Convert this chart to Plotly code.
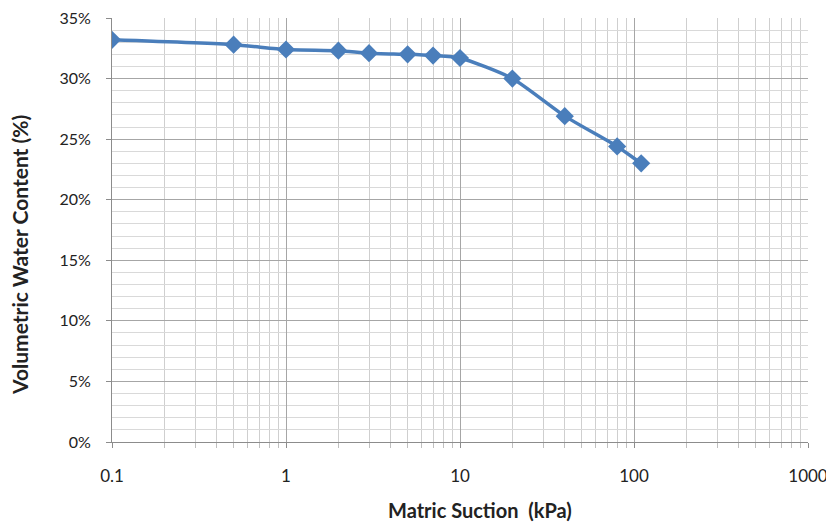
import plotly.graph_objects as go

suction_kpa = [0.1, 0.5, 1, 2, 3, 5, 7, 10, 20, 40, 80, 110]
vwc = [0.332, 0.328, 0.324, 0.323, 0.321, 0.320, 0.319, 0.317, 0.300, 0.269, 0.244, 0.230]
x_ticks = [0.1, 1, 10, 100, 1000]
x_tick_text = ["0.1", "1", "10", "100", "1000"]

FONT = "Lato"

# figure is offset by the page's 8px body margin, so size/margins are reduced by 8
W, H = 826, 517
ML, MR, MT, MB = 104, 26, 10, 83
PW, PH = W - ML - MR, H - MT - MB

fig = go.Figure()
fig.add_trace(go.Scatter(
    x=suction_kpa, y=vwc, mode="lines+markers",
    line=dict(color="#4a7ebb", width=3.5, shape="spline", smoothing=0.6),
    marker=dict(symbol="diamond", size=14, color="#4a7ebb"),
    showlegend=False,
))

fig.update_layout(
    width=W, height=H,
    margin=dict(l=ML, r=MR, t=MT, b=MB),
    paper_bgcolor="white", plot_bgcolor="white",
    font=dict(family=FONT, size=17, color="#222222"),
    xaxis=dict(
        type="log", range=[-1, 3], automargin=False,
        tickvals=x_ticks, ticktext=x_tick_text,
        showgrid=True, gridcolor="#a6a6a6", gridwidth=1,
        minor=dict(dtick="D1", showgrid=True, gridcolor="#cfcfcf", gridwidth=1,
                   ticks="outside", ticklen=5, tickcolor="#bfbfbf"),
        showline=True, linecolor="#8c8c8c", linewidth=1,
        ticks="outside", ticklen=5, tickcolor="#8c8c8c",
        ticklabelstandoff=14, ticklabeloverflow="allow",
        tickfont=dict(family=FONT, size=17),
        zeroline=False,
    ),
    yaxis=dict(
        range=[0, 0.35], dtick=0.05, tickformat=".0%", automargin=False,
        showgrid=True, gridcolor="#a6a6a6", gridwidth=1,
        minor=dict(dtick=0.01, showgrid=True, gridcolor="#d9d9d9", gridwidth=1, ticks=""),
        showline=True, linecolor="#8c8c8c", linewidth=1,
        ticks="outside", ticklen=5, tickcolor="#8c8c8c",
        ticklabelstandoff=12, ticklabeloverflow="allow",
        tickfont=dict(family=FONT, size=16),
        zeroline=False,
    ),
    annotations=[
        dict(text="<b>Matric Suction&nbsp; (kPa)</b>",
             x=(480 - 8 - ML) / PW, y=(H - MB - (510 - 8)) / PH,
             xref="paper", yref="paper", xanchor="center", yanchor="middle",
             showarrow=False, font=dict(family=FONT, size=20)),
        dict(text="<b>Volumetric Water Content (%)</b>",
             x=(19 - 8 - ML) / PW, y=(H - MB - (255 - 8)) / PH,
             xref="paper", yref="paper", xanchor="center", yanchor="middle",
             showarrow=False, textangle=-90,
             font=dict(family=FONT, size=21)),
    ],
)

fig.write_html("out.html")
